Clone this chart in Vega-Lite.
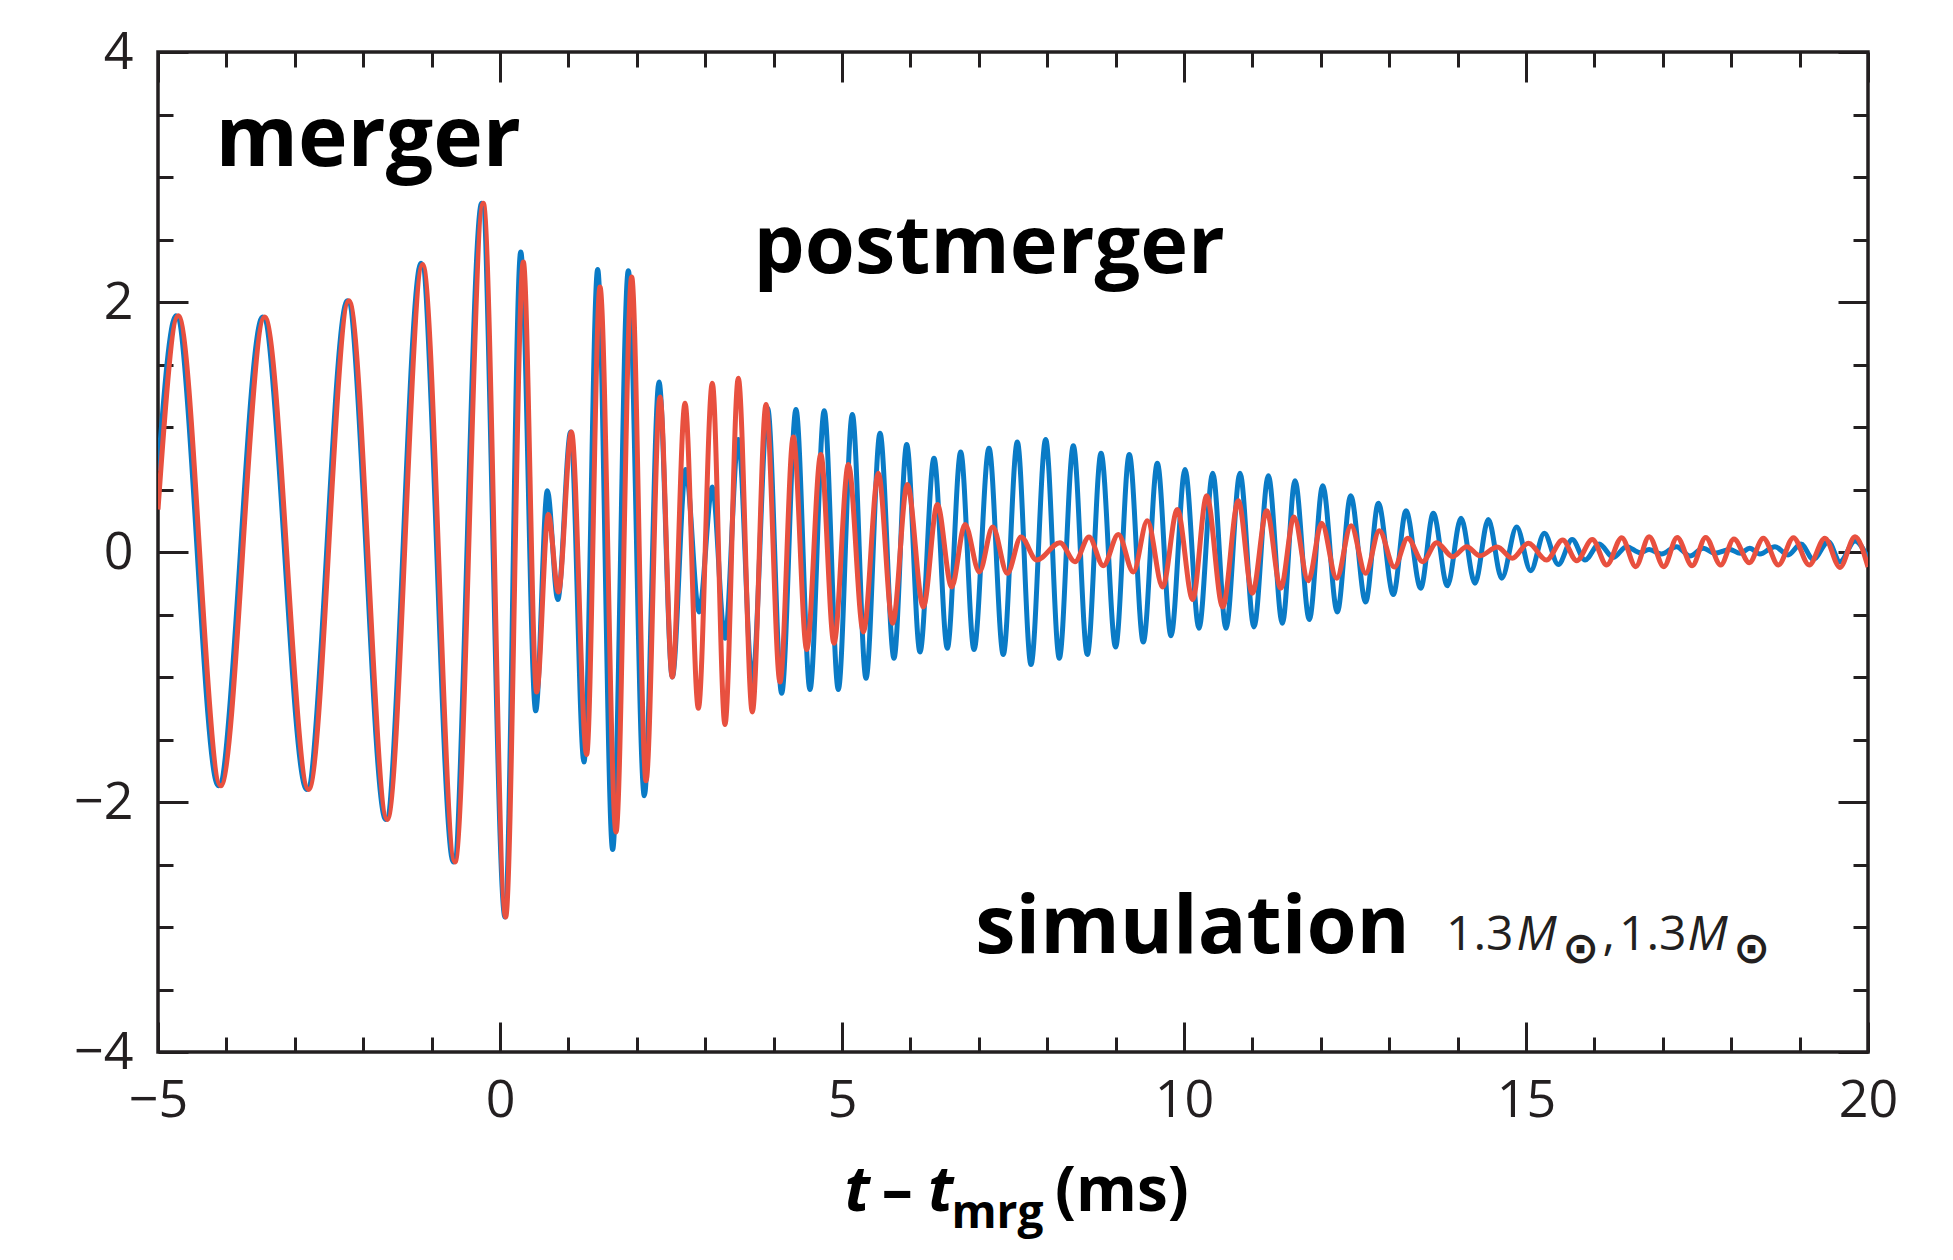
{
  "$schema": "https://vega.github.io/schema/vega-lite/v6.json",
  "width": 1710,
  "height": 1000,
  "autosize": "none",
  "padding": {"left": 158, "top": 52, "right": 85, "bottom": 208},
  "background": "white",
  "config": {
    "view": {"stroke": "#231f20", "strokeWidth": 3.5},
    "font": "Open Sans",
    "axis": {"grid": false, "domain": false, "title": null, "tickColor": "#231f20", "tickWidth": 3, "labelFlush": false, "labelOverlap": false, "labelBound": false, "labelFont": "Open Sans", "labelFontSize": 52, "labelColor": "#231f20"}
  },
  "datasets": {
    "wave": [
      {"series": "simulation", "t": -5.0, "h": 0.65},
      {"series": "simulation", "t": -4.737, "h": 1.89},
      {"series": "simulation", "t": -4.118, "h": -1.87},
      {"series": "simulation", "t": -3.47, "h": 1.88},
      {"series": "simulation", "t": -2.826, "h": -1.9},
      {"series": "simulation", "t": -2.232, "h": 2.01},
      {"series": "simulation", "t": -1.671, "h": -2.14},
      {"series": "simulation", "t": -1.155, "h": 2.31},
      {"series": "simulation", "t": -0.682, "h": -2.48},
      {"series": "simulation", "t": -0.268, "h": 2.79},
      {"series": "simulation", "t": 0.073, "h": -2.92},
      {"series": "simulation", "t": 0.303, "h": 2.4},
      {"series": "simulation", "t": 0.522, "h": -1.27},
      {"series": "simulation", "t": 0.692, "h": 0.49},
      {"series": "simulation", "t": 0.845, "h": -0.38},
      {"series": "simulation", "t": 1.033, "h": 0.96},
      {"series": "simulation", "t": 1.228, "h": -1.68},
      {"series": "simulation", "t": 1.428, "h": 2.26},
      {"series": "simulation", "t": 1.647, "h": -2.38},
      {"series": "simulation", "t": 1.876, "h": 2.25},
      {"series": "simulation", "t": 2.11, "h": -1.95},
      {"series": "simulation", "t": 2.325, "h": 1.36},
      {"series": "simulation", "t": 2.519, "h": -1.0},
      {"series": "simulation", "t": 2.715, "h": 0.66},
      {"series": "simulation", "t": 2.91, "h": -0.48},
      {"series": "simulation", "t": 3.104, "h": 0.52},
      {"series": "simulation", "t": 3.289, "h": -0.69},
      {"series": "simulation", "t": 3.484, "h": 0.9},
      {"series": "simulation", "t": 3.689, "h": -1.04},
      {"series": "simulation", "t": 3.913, "h": 1.15},
      {"series": "simulation", "t": 4.118, "h": -1.13},
      {"series": "simulation", "t": 4.327, "h": 1.14},
      {"series": "simulation", "t": 4.532, "h": -1.1},
      {"series": "simulation", "t": 4.74, "h": 1.13},
      {"series": "simulation", "t": 4.946, "h": -1.1},
      {"series": "simulation", "t": 5.151, "h": 1.1},
      {"series": "simulation", "t": 5.351, "h": -1.01},
      {"series": "simulation", "t": 5.556, "h": 0.95},
      {"series": "simulation", "t": 5.76, "h": -0.85},
      {"series": "simulation", "t": 5.946, "h": 0.86},
      {"series": "simulation", "t": 6.14, "h": -0.8},
      {"series": "simulation", "t": 6.345, "h": 0.75},
      {"series": "simulation", "t": 6.54, "h": -0.77},
      {"series": "simulation", "t": 6.735, "h": 0.8},
      {"series": "simulation", "t": 6.93, "h": -0.78},
      {"series": "simulation", "t": 7.149, "h": 0.83},
      {"series": "simulation", "t": 7.358, "h": -0.82},
      {"series": "simulation", "t": 7.563, "h": 0.88},
      {"series": "simulation", "t": 7.763, "h": -0.9},
      {"series": "simulation", "t": 7.978, "h": 0.9},
      {"series": "simulation", "t": 8.177, "h": -0.85},
      {"series": "simulation", "t": 8.382, "h": 0.85},
      {"series": "simulation", "t": 8.587, "h": -0.82},
      {"series": "simulation", "t": 8.787, "h": 0.79},
      {"series": "simulation", "t": 9.0, "h": -0.76},
      {"series": "simulation", "t": 9.2, "h": 0.78},
      {"series": "simulation", "t": 9.405, "h": -0.72},
      {"series": "simulation", "t": 9.61, "h": 0.71},
      {"series": "simulation", "t": 9.81, "h": -0.67},
      {"series": "simulation", "t": 10.015, "h": 0.66},
      {"series": "simulation", "t": 10.219, "h": -0.61},
      {"series": "simulation", "t": 10.42, "h": 0.63},
      {"series": "simulation", "t": 10.614, "h": -0.61},
      {"series": "simulation", "t": 10.819, "h": 0.63},
      {"series": "simulation", "t": 11.023, "h": -0.6},
      {"series": "simulation", "t": 11.233, "h": 0.61},
      {"series": "simulation", "t": 11.438, "h": -0.57},
      {"series": "simulation", "t": 11.623, "h": 0.57},
      {"series": "simulation", "t": 11.832, "h": -0.54},
      {"series": "simulation", "t": 12.028, "h": 0.53},
      {"series": "simulation", "t": 12.241, "h": -0.48},
      {"series": "simulation", "t": 12.437, "h": 0.45},
      {"series": "simulation", "t": 12.656, "h": -0.4},
      {"series": "simulation", "t": 12.841, "h": 0.39},
      {"series": "simulation", "t": 13.06, "h": -0.34},
      {"series": "simulation", "t": 13.246, "h": 0.33},
      {"series": "simulation", "t": 13.46, "h": -0.29},
      {"series": "simulation", "t": 13.645, "h": 0.31},
      {"series": "simulation", "t": 13.85, "h": -0.27},
      {"series": "simulation", "t": 14.05, "h": 0.27},
      {"series": "simulation", "t": 14.254, "h": -0.25},
      {"series": "simulation", "t": 14.449, "h": 0.26},
      {"series": "simulation", "t": 14.645, "h": -0.21},
      {"series": "simulation", "t": 14.864, "h": 0.2},
      {"series": "simulation", "t": 15.068, "h": -0.15},
      {"series": "simulation", "t": 15.268, "h": 0.15},
      {"series": "simulation", "t": 15.472, "h": -0.1},
      {"series": "simulation", "t": 15.675, "h": 0.1},
      {"series": "simulation", "t": 15.863, "h": -0.064},
      {"series": "simulation", "t": 16.07, "h": 0.064},
      {"series": "simulation", "t": 16.277, "h": -0.043},
      {"series": "simulation", "t": 16.47, "h": 0.043},
      {"series": "simulation", "t": 16.67, "h": -0.005},
      {"series": "simulation", "t": 16.8, "h": 0.02},
      {"series": "simulation", "t": 16.98, "h": -0.016},
      {"series": "simulation", "t": 17.2, "h": 0.043},
      {"series": "simulation", "t": 17.397, "h": -0.032},
      {"series": "simulation", "t": 17.59, "h": 0.03},
      {"series": "simulation", "t": 17.76, "h": -0.01},
      {"series": "simulation", "t": 17.98, "h": 0.02},
      {"series": "simulation", "t": 18.13, "h": -0.01},
      {"series": "simulation", "t": 18.27, "h": 0.03},
      {"series": "simulation", "t": 18.42, "h": -0.016},
      {"series": "simulation", "t": 18.64, "h": 0.043},
      {"series": "simulation", "t": 18.83, "h": -0.024},
      {"series": "simulation", "t": 19.02, "h": 0.064},
      {"series": "simulation", "t": 19.2, "h": -0.059},
      {"series": "simulation", "t": 19.42, "h": 0.083},
      {"series": "simulation", "t": 19.59, "h": -0.077},
      {"series": "simulation", "t": 19.81, "h": 0.088},
      {"series": "simulation", "t": 20.0, "h": -0.05},
      {"series": "model", "t": -5.0, "h": 0.34},
      {"series": "model", "t": -4.703, "h": 1.89},
      {"series": "model", "t": -4.083, "h": -1.87},
      {"series": "model", "t": -3.44, "h": 1.88},
      {"series": "model", "t": -2.797, "h": -1.9},
      {"series": "model", "t": -2.208, "h": 2.01},
      {"series": "model", "t": -1.647, "h": -2.14},
      {"series": "model", "t": -1.13, "h": 2.3},
      {"series": "model", "t": -0.658, "h": -2.48},
      {"series": "model", "t": -0.244, "h": 2.79},
      {"series": "model", "t": 0.083, "h": -2.92},
      {"series": "model", "t": 0.341, "h": 2.32},
      {"series": "model", "t": 0.536, "h": -1.12},
      {"series": "model", "t": 0.706, "h": 0.3},
      {"series": "model", "t": 0.854, "h": -0.32},
      {"series": "model", "t": 1.045, "h": 0.96},
      {"series": "model", "t": 1.267, "h": -1.62},
      {"series": "model", "t": 1.462, "h": 2.12},
      {"series": "model", "t": 1.696, "h": -2.24},
      {"series": "model", "t": 1.925, "h": 2.2},
      {"series": "model", "t": 2.135, "h": -1.83},
      {"series": "model", "t": 2.339, "h": 1.24},
      {"series": "model", "t": 2.519, "h": -1.0},
      {"series": "model", "t": 2.705, "h": 1.19},
      {"series": "model", "t": 2.9, "h": -1.25},
      {"series": "model", "t": 3.104, "h": 1.35},
      {"series": "model", "t": 3.289, "h": -1.38},
      {"series": "model", "t": 3.484, "h": 1.39},
      {"series": "model", "t": 3.689, "h": -1.28},
      {"series": "model", "t": 3.889, "h": 1.18},
      {"series": "model", "t": 4.094, "h": -1.04},
      {"series": "model", "t": 4.288, "h": 0.92},
      {"series": "model", "t": 4.484, "h": -0.78},
      {"series": "model", "t": 4.69, "h": 0.78},
      {"series": "model", "t": 4.883, "h": -0.73},
      {"series": "model", "t": 5.093, "h": 0.7},
      {"series": "model", "t": 5.313, "h": -0.64},
      {"series": "model", "t": 5.531, "h": 0.63},
      {"series": "model", "t": 5.741, "h": -0.57},
      {"series": "model", "t": 5.955, "h": 0.54},
      {"series": "model", "t": 6.189, "h": -0.44},
      {"series": "model", "t": 6.394, "h": 0.38},
      {"series": "model", "t": 6.603, "h": -0.28},
      {"series": "model", "t": 6.798, "h": 0.22},
      {"series": "model", "t": 7.008, "h": -0.16},
      {"series": "model", "t": 7.203, "h": 0.2},
      {"series": "model", "t": 7.417, "h": -0.17},
      {"series": "model", "t": 7.617, "h": 0.12},
      {"series": "model", "t": 7.846, "h": -0.064},
      {"series": "model", "t": 8.187, "h": 0.075},
      {"series": "model", "t": 8.406, "h": -0.077},
      {"series": "model", "t": 8.611, "h": 0.12},
      {"series": "model", "t": 8.82, "h": -0.11},
      {"series": "model", "t": 9.04, "h": 0.14},
      {"series": "model", "t": 9.259, "h": -0.16},
      {"series": "model", "t": 9.464, "h": 0.25},
      {"series": "model", "t": 9.688, "h": -0.28},
      {"series": "model", "t": 9.902, "h": 0.34},
      {"series": "model", "t": 10.127, "h": -0.38},
      {"series": "model", "t": 10.332, "h": 0.45},
      {"series": "model", "t": 10.566, "h": -0.44},
      {"series": "model", "t": 10.794, "h": 0.41},
      {"series": "model", "t": 10.999, "h": -0.33},
      {"series": "model", "t": 11.209, "h": 0.33},
      {"series": "model", "t": 11.414, "h": -0.29},
      {"series": "model", "t": 11.608, "h": 0.28},
      {"series": "model", "t": 11.817, "h": -0.23},
      {"series": "model", "t": 12.013, "h": 0.23},
      {"series": "model", "t": 12.232, "h": -0.21},
      {"series": "model", "t": 12.442, "h": 0.21},
      {"series": "model", "t": 12.656, "h": -0.17},
      {"series": "model", "t": 12.856, "h": 0.17},
      {"series": "model", "t": 13.075, "h": -0.12},
      {"series": "model", "t": 13.27, "h": 0.11},
      {"series": "model", "t": 13.49, "h": -0.077},
      {"series": "model", "t": 13.694, "h": 0.075},
      {"series": "model", "t": 13.928, "h": -0.037},
      {"series": "model", "t": 14.133, "h": 0.043},
      {"series": "model", "t": 14.327, "h": -0.03},
      {"series": "model", "t": 14.58, "h": 0.04},
      {"series": "model", "t": 14.8, "h": -0.05},
      {"series": "model", "t": 15.034, "h": 0.07},
      {"series": "model", "t": 15.3, "h": -0.064},
      {"series": "model", "t": 15.536, "h": 0.096},
      {"series": "model", "t": 15.741, "h": -0.07},
      {"series": "model", "t": 15.97, "h": 0.1},
      {"series": "model", "t": 16.18, "h": -0.104},
      {"series": "model", "t": 16.4, "h": 0.115},
      {"series": "model", "t": 16.604, "h": -0.117},
      {"series": "model", "t": 16.8, "h": 0.123},
      {"series": "model", "t": 17.015, "h": -0.117},
      {"series": "model", "t": 17.21, "h": 0.117},
      {"series": "model", "t": 17.43, "h": -0.11},
      {"series": "model", "t": 17.627, "h": 0.117},
      {"series": "model", "t": 17.846, "h": -0.104},
      {"series": "model", "t": 18.04, "h": 0.104},
      {"series": "model", "t": 18.265, "h": -0.085},
      {"series": "model", "t": 18.47, "h": 0.11},
      {"series": "model", "t": 18.69, "h": -0.104},
      {"series": "model", "t": 18.91, "h": 0.115},
      {"series": "model", "t": 19.14, "h": -0.104},
      {"series": "model", "t": 19.37, "h": 0.11},
      {"series": "model", "t": 19.59, "h": -0.123},
      {"series": "model", "t": 19.81, "h": 0.123},
      {"series": "model", "t": 20.0, "h": -0.12}
    ]
  },
  "resolve": {"axis": {"x": "independent", "y": "independent"}},
  "layer": [
    {
      "data": {"name": "wave"},
      "transform": [{"filter": "datum.series === 'simulation'"}],
      "mark": {"type": "line", "interpolate": "monotone", "color": "#0a7bc6", "strokeWidth": 5, "clip": true},
      "encoding": {
        "x": {"field": "t", "type": "quantitative", "scale": {"domain": [-5, 20], "nice": false, "zero": false},
              "axis": {"orient": "bottom", "values": [-5, 0, 5, 10, 15, 20], "tickSize": -30, "labelPadding": 53}},
        "y": {"field": "h", "type": "quantitative", "scale": {"domain": [-4, 4], "nice": false, "zero": false},
              "axis": {"orient": "left", "values": [-4, -2, 0, 2, 4], "tickSize": -30, "labelPadding": 55, "labelBaseline": "middle"}}
      }
    },
    {
      "data": {"name": "wave"},
      "transform": [{"filter": "datum.series === 'model'"}],
      "mark": {"type": "line", "interpolate": "monotone", "color": "#e8503f", "strokeWidth": 5, "clip": true},
      "encoding": {
        "x": {"field": "t", "type": "quantitative",
              "axis": {"orient": "bottom", "values": [-4, -3, -2, -1, 1, 2, 3, 4, 6, 7, 8, 9, 11, 12, 13, 14, 16, 17, 18, 19], "tickSize": -15, "labels": false}},
        "y": {"field": "h", "type": "quantitative",
              "axis": {"orient": "left", "values": [-3.5, -3, -2.5, -1.5, -1, -0.5, 0.5, 1, 1.5, 2.5, 3, 3.5], "tickSize": -15, "labels": false}}
      }
    },
    {
      "data": {"values": [
        {"label": "merger", "t": -4.16, "h": 3.09}
      ]},
      "mark": {"type": "text", "align": "left", "baseline": "alphabetic", "font": "Open Sans", "fontSize": 84, "fontWeight": "bold", "color": "#000000"},
      "encoding": {
        "x": {"field": "t", "type": "quantitative",
              "axis": {"orient": "top", "values": [-5, 0, 5, 10, 15, 20], "tickSize": -30, "labels": false}},
        "y": {"field": "h", "type": "quantitative",
              "axis": {"orient": "right", "values": [-4, -2, 0, 2, 4], "tickSize": -30, "labels": false}},
        "text": {"field": "label"}
      }
    },
    {
      "data": {"values": [
        {"label": "postmerger", "t": 3.706, "h": 2.23},
        {"label": "simulation", "t": 6.947, "h": -3.205}
      ]},
      "mark": {"type": "text", "align": "left", "baseline": "alphabetic", "font": "Open Sans", "fontSize": 81, "fontWeight": "bold", "color": "#000000"},
      "encoding": {
        "x": {"field": "t", "type": "quantitative",
              "axis": {"orient": "top", "values": [-4, -3, -2, -1, 1, 2, 3, 4, 6, 7, 8, 9, 11, 12, 13, 14, 16, 17, 18, 19], "tickSize": -15, "labels": false}},
        "y": {"field": "h", "type": "quantitative",
              "axis": {"orient": "right", "values": [-3.5, -3, -2.5, -1.5, -1, -0.5, 0.5, 1, 1.5, 2.5, 3, 3.5], "tickSize": -15, "labels": false}},
        "text": {"field": "label"}
      }
    },
    {
      "data": {"values": [
        {"label": "1.3", "t": 13.83, "h": -3.18},
        {"label": ",", "t": 16.12, "h": -3.18},
        {"label": "1.3", "t": 16.36, "h": -3.18}
      ]},
      "mark": {"type": "text", "align": "left", "baseline": "alphabetic", "font": "Open Sans", "fontSize": 48, "color": "#231f20"},
      "encoding": {
        "x": {"field": "t", "type": "quantitative", "axis": null},
        "y": {"field": "h", "type": "quantitative", "axis": null},
        "text": {"field": "label"}
      }
    },
    {
      "data": {"values": [
        {"label": "M", "t": 14.86, "h": -3.18},
        {"label": "M", "t": 17.36, "h": -3.18}
      ]},
      "mark": {"type": "text", "align": "left", "baseline": "alphabetic", "font": "Open Sans", "fontSize": 48, "fontStyle": "italic", "color": "#231f20"},
      "encoding": {
        "x": {"field": "t", "type": "quantitative", "axis": null},
        "y": {"field": "h", "type": "quantitative", "axis": null},
        "text": {"field": "label"}
      }
    },
    {
      "data": {"values": [
        {"label": "⊙", "t": 15.53, "h": -3.29},
        {"label": "⊙", "t": 18.03, "h": -3.29}
      ]},
      "mark": {"type": "text", "align": "left", "baseline": "alphabetic", "font": "DejaVu Sans", "fontSize": 44, "fontWeight": "bold", "color": "#231f20"},
      "encoding": {
        "x": {"field": "t", "type": "quantitative", "axis": null},
        "y": {"field": "h", "type": "quantitative", "axis": null},
        "text": {"field": "label"}
      }
    },
    {
      "data": {"values": [
        {"label": "t", "t": 5.036, "h": -5.269},
        {"label": "t", "t": 6.256, "h": -5.269}
      ]},
      "mark": {"type": "text", "align": "left", "baseline": "alphabetic", "font": "Open Sans", "fontSize": 62, "fontWeight": "bold", "fontStyle": "italic", "color": "#000000"},
      "encoding": {
        "x": {"field": "t", "type": "quantitative", "axis": null},
        "y": {"field": "h", "type": "quantitative", "axis": null},
        "text": {"field": "label"}
      }
    },
    {
      "data": {"values": [
        {"label": "–", "t": 5.58, "h": -5.269},
        {"label": "(ms)", "t": 8.114, "h": -5.269}
      ]},
      "mark": {"type": "text", "align": "left", "baseline": "alphabetic", "font": "Open Sans", "fontSize": 62, "fontWeight": "bold", "color": "#000000"},
      "encoding": {
        "x": {"field": "t", "type": "quantitative", "axis": null},
        "y": {"field": "h", "type": "quantitative", "axis": null},
        "text": {"field": "label"}
      }
    },
    {
      "data": {"values": [
        {"label": "mrg", "t": 6.6, "h": -5.41}
      ]},
      "mark": {"type": "text", "align": "left", "baseline": "alphabetic", "font": "Open Sans", "fontSize": 46, "fontWeight": "bold", "color": "#000000"},
      "encoding": {
        "x": {"field": "t", "type": "quantitative", "axis": null},
        "y": {"field": "h", "type": "quantitative", "axis": null},
        "text": {"field": "label"}
      }
    }
  ]
}
